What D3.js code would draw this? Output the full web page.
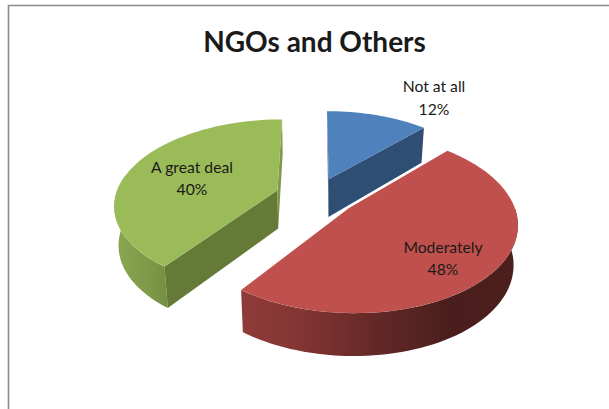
<!DOCTYPE html>
<html><head><meta charset="utf-8">
<script src="https://cdn.jsdelivr.net/npm/d3@7"></script>
<style>html,body{margin:0;padding:0;background:#fff}svg{display:block}text{font-family:Lato,"Open Sans",sans-serif;fill:#1a1a1a}</style>
</head><body>
<script>
const chartTitle = "NGOs and Others";
const categories = ["Not at all", "Moderately", "A great deal"];
const values = [12, 48, 40];
const topColors = ["#4f81bd", "#c0504d", "#9bbb59"];

const W = 609, H = 409;
const svg = d3.select("body").append("svg").attr("width", W).attr("height", H);
const defs = svg.append("defs");
function grad(id, stops){
  const g = defs.append("linearGradient").attr("id", id);
  stops.forEach(s => g.append("stop").attr("offset", s[0]).attr("stop-color", s[1]));
}
grad("redWall", [[0,"#8f3b39"],[0.2,"#843634"],[0.5,"#622826"],[0.75,"#4a1e1c"],[1,"#4c1f1d"]]);
grad("greenWall", [[0,"#8aa650"],[0.6,"#7f9b4a"],[1,"#748e43"]]);

svg.append("path").attr("d", `M8.5 409V5.5H${W}`).attr("fill","none").attr("stroke","#8a8a8a").attr("stroke-width",1.6);

const arcs = d3.pie().sort(null).value(d => d)(values);
const cx = 316, cy = 196, rx = 162, ry = 84, persp = 0.16, explode = 0.22, depth = 38.5;
const nudge = [0, 5, -5];
const sx = d3.scaleLinear().domain([0,1]).range([0,rx]);
const sy = d3.scaleLinear().domain([0,1]).range([0,ry]);

function project(X, Y, lower, shift){
  const s = 1/(1 - persp*Y);
  const q = lower ? 0.978 : 1;
  return [cx + shift + sx(X)*s*q, cy + sy(Y)*s + (lower ? depth*(1+0.1*Y) : 0)];
}
const line = d3.line();
const g = svg.append("g");
function angles(a0, a1){ return d3.range(0, 61).map(i => a0 + (a1-a0)*i/60); }

[0, 2, 1].forEach(i => {
  const d = arcs[i];
  const mid = (d.startAngle + d.endAngle)/2;
  const c = [explode*Math.sin(mid), -explode*Math.cos(mid)];
  const n = nudge[i];
  const rim = (a, lower) => project(c[0]+Math.sin(a), c[1]-Math.cos(a), lower, n);
  const apex = project(c[0], c[1], false, n), apexL = project(c[0], c[1], true, n);
  const top = angles(d.startAngle, d.endAngle).map(a => rim(a, false));
  const wallPath = as => line(as.map(a => rim(a, false)).concat(as.slice().reverse().map(a => rim(a, true))))+"Z";

  if (i === 0) {
    g.append("path").attr("d", line([apex, rim(d.endAngle,false), rim(d.endAngle,true), apexL])+"Z").attr("fill","#2f4e74");
    g.append("path").attr("d", line([rim(d.startAngle,false), apex, apexL])+"Z").attr("fill","#2f4e74");
  }
  if (i === 2) {
    g.append("path").attr("d", wallPath(angles(d.startAngle, 1.56*Math.PI))).attr("fill","url(#greenWall)");
    g.append("path").attr("d", line([rim(d.startAngle,false), apex, apexL, rim(d.startAngle,true)])+"Z").attr("fill","#667a38");
    g.append("path").attr("d", line([rim(d.endAngle,false), apex, apexL, rim(d.endAngle,true)])+"Z").attr("fill","#7f9a48");
  }
  if (i === 1) {
    g.append("path").attr("d", wallPath(angles(Math.PI/2, d.endAngle))).attr("fill","url(#redWall)");
  }
  g.append("path").attr("d", line([apex, ...top])+"Z").attr("fill", topColors[i]);
});

svg.append("text").attr("x",314.5).attr("y",52).attr("text-anchor","middle")
  .attr("font-size",28).attr("font-weight",700).text(chartTitle);

const labelAt = [[434,92,115],[443,253,275],[192,173,195]];
categories.forEach((c,i) => {
  const t = svg.append("text").attr("text-anchor","middle").attr("font-size",15.7);
  t.append("tspan").attr("x",labelAt[i][0]).attr("y",labelAt[i][1]).text(c);
  t.append("tspan").attr("x",labelAt[i][0]).attr("y",labelAt[i][2]).text(values[i]+"%");
});
</script>
</body></html>
